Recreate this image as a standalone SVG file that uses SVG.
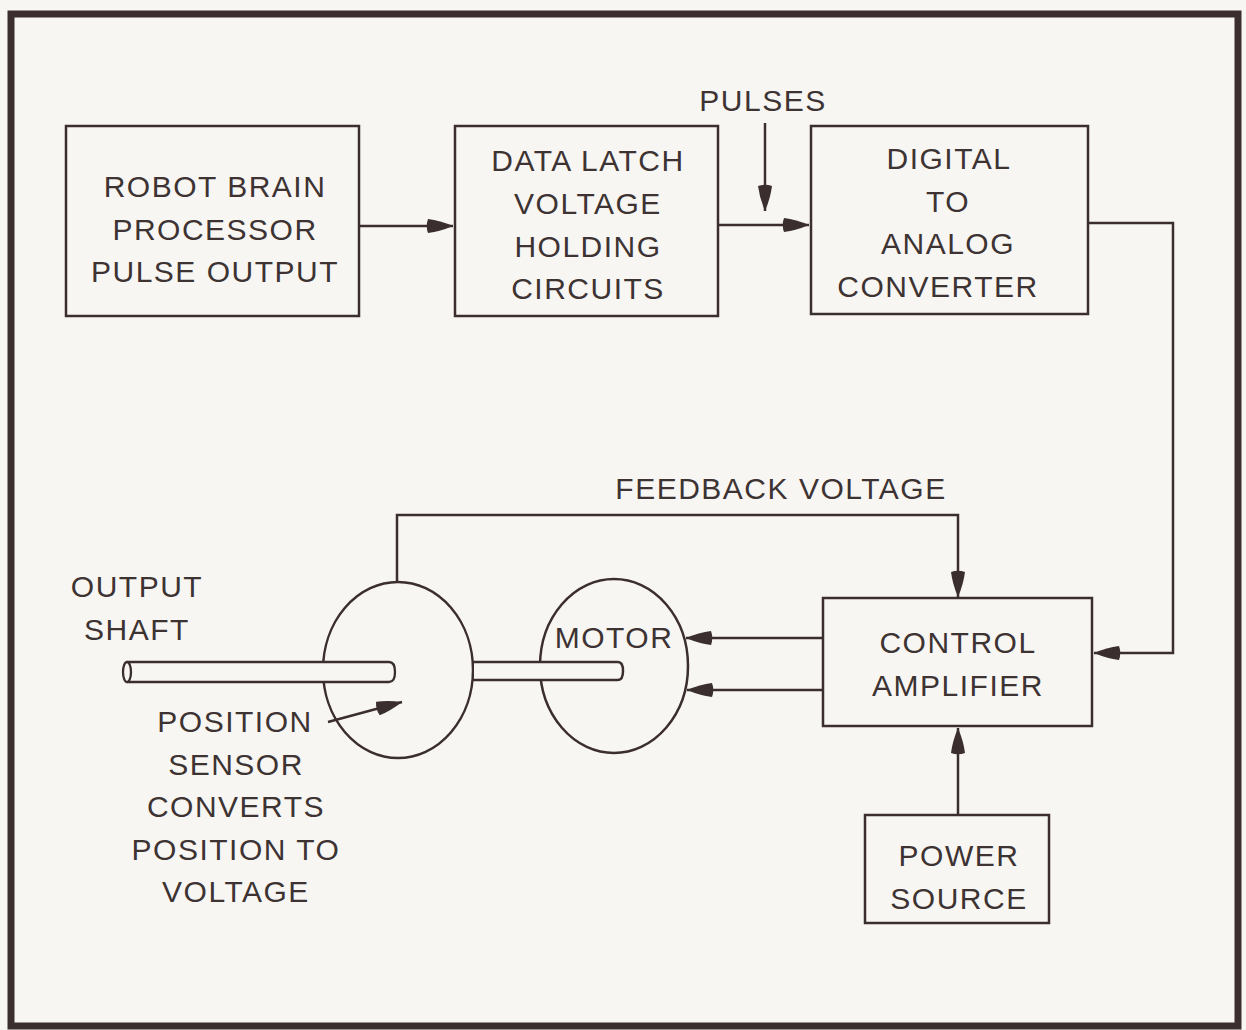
<svg xmlns="http://www.w3.org/2000/svg" width="1246" height="1030" viewBox="0 0 1246 1030">
<defs>
<style>
.ln{fill:none;stroke:#3a2e2e;stroke-width:2.5;stroke-linejoin:miter}
.box{fill:none;stroke:#3a2e2e;stroke-width:2.5}
.t{font-family:"Liberation Sans",Arial,sans-serif;font-size:30px;letter-spacing:1.5px;fill:#3d3333;text-anchor:middle}
.sh{fill:#f8f6f2;stroke:#3a2e2e;stroke-width:2.3}
</style>
<marker id="ah" markerUnits="userSpaceOnUse" markerWidth="30" markerHeight="18" viewBox="-27 -9 30 18" refX="0" refY="0" orient="auto">
<path d="M-25,-7 Q-13,-5.5 0,0 Q-13,5.5 -25,7 Q-27.5,0 -25,-7 Z" fill="#3a2e2e"/>
</marker>
</defs>
<rect x="0" y="0" width="1246" height="1030" fill="#f8f6f2"/>
<rect x="11" y="14" width="1227" height="1012" fill="none" stroke="#3a2e2e" stroke-width="7"/>

<g id="connectors">
<path class="ln" d="M359,226 L453,226" marker-end="url(#ah)"/>
<path class="ln" d="M718,225 L809,225" marker-end="url(#ah)"/>
<path class="ln" d="M765,123 L765,211" marker-end="url(#ah)"/>
<path class="ln" d="M1088,223 L1173,223 L1173,653 L1094,653" marker-end="url(#ah)"/>
<path class="ln" d="M397,583 L397,515 L958,515 L958,597" marker-end="url(#ah)"/>
<path class="ln" d="M958,815 L958,728" marker-end="url(#ah)"/>
<path class="ln" d="M823,638 L686,638" marker-end="url(#ah)"/>
<path class="ln" d="M823,690 L687,690" marker-end="url(#ah)"/>
<path class="ln" d="M328,722 L402,702" marker-end="url(#ah)"/>
</g>

<g id="robot-brain">
<rect class="box" x="66" y="126" width="293" height="190"/>
<text class="t" x="215" y="197">ROBOT BRAIN</text>
<text class="t" x="215" y="240">PROCESSOR</text>
<text class="t" x="215" y="282">PULSE OUTPUT</text>
</g>

<g id="data-latch">
<rect class="box" x="455" y="126" width="263" height="190"/>
<text class="t" x="588" y="171">DATA LATCH</text>
<text class="t" x="588" y="214">VOLTAGE</text>
<text class="t" x="588" y="257">HOLDING</text>
<text class="t" x="588" y="299">CIRCUITS</text>
</g>

<g id="pulses-label">
<text class="t" x="763" y="111">PULSES</text>
</g>

<g id="dac">
<rect class="box" x="811" y="126" width="277" height="188"/>
<text class="t" x="949" y="169">DIGITAL</text>
<text class="t" x="948" y="212">TO</text>
<text class="t" x="948" y="254">ANALOG</text>
<text class="t" x="938" y="297">CONVERTER</text>
</g>

<g id="feedback-label">
<text class="t" x="781" y="499">FEEDBACK VOLTAGE</text>
</g>

<g id="control-amplifier">
<rect class="box" x="823" y="598" width="269" height="128"/>
<text class="t" x="958" y="653">CONTROL</text>
<text class="t" x="958" y="696">AMPLIFIER</text>
</g>

<g id="power-source">
<rect class="box" x="865" y="815" width="184" height="108"/>
<text class="t" x="959" y="866">POWER</text>
<text class="t" x="959" y="909">SOURCE</text>
</g>

<g id="position-sensor">
<ellipse class="ln" cx="398" cy="670" rx="75" ry="88"/>
</g>

<g id="motor">
<ellipse class="ln" cx="614" cy="666" rx="74" ry="87"/>
<text class="t" x="614" y="648">MOTOR</text>
</g>

<g id="shafts">
<path class="sh" d="M127,662 L389,662 Q395,662 395,672 Q395,682 389,682 L127,682"/>
<ellipse class="sh" cx="127" cy="672" rx="4" ry="10"/>
<path fill="#f8f6f2" stroke="none" d="M474,663 L618,663 Q622,663 622,671 Q622,679 618,679 L474,679 Z"/>
<path class="ln" stroke-width="2.3" d="M473,662 L618,662 Q623,662 623,671 Q623,680 618,680 L473,680"/>
</g>

<g id="labels">
<text class="t" x="137" y="597">OUTPUT</text>
<text class="t" x="137" y="640">SHAFT</text>
<text class="t" x="235" y="732">POSITION</text>
<text class="t" x="236" y="775">SENSOR</text>
<text class="t" x="236" y="817">CONVERTS</text>
<text class="t" x="236" y="860">POSITION TO</text>
<text class="t" x="236" y="902">VOLTAGE</text>
</g>
</svg>
